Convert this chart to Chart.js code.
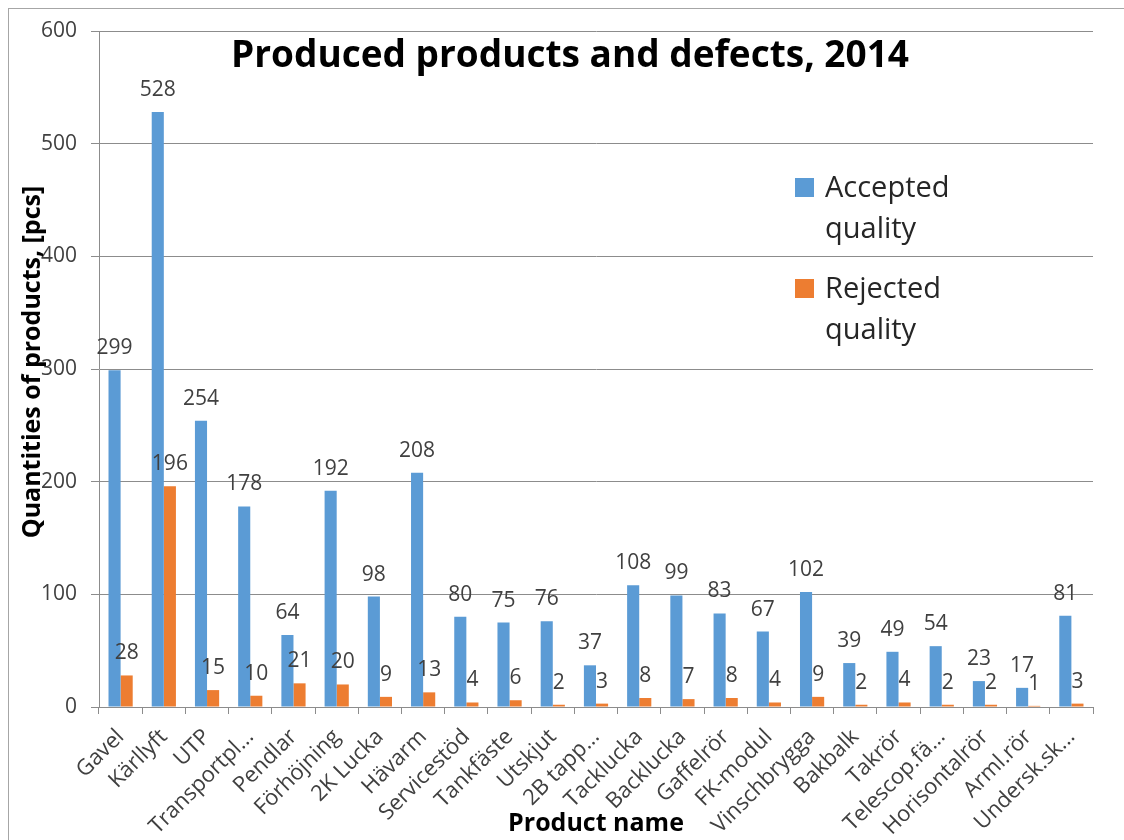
<!DOCTYPE html>
<html>
<head>
<meta charset="utf-8">
<script src="https://cdn.jsdelivr.net/npm/chart.js@4"></script>
<style>
  html, body { margin: 0; padding: 0; background: #fff; }
  #wrap { width: 1124px; height: 840px; }
</style>
</head>
<body>
<div id="wrap"><canvas id="productChart" width="1124" height="840"></canvas></div>
<script>
const categories = ['Gavel', 'Kärllyft', 'UTP', 'Transportpl...', 'Pendlar', 'Förhöjning', '2K Lucka',
    'Hävarm', 'Servicestöd', 'Tankfäste', 'Utskjut', '2B tapp...', 'Tacklucka', 'Backlucka',
    'Gaffelrör', 'FK-modul', 'Vinschbrygga', 'Bakbalk', 'Takrör', 'Telescop.fä...',
    'Horisontalrör', 'Arml.rör', 'Undersk.sk...'];
const accepted = [299, 528, 254, 178, 64, 192, 98, 208, 80, 75, 76, 37, 108, 99, 83, 67, 102, 39, 49, 54, 23, 17, 81];
const rejected = [28, 196, 15, 10, 21, 20, 9, 13, 4, 6, 2, 3, 8, 7, 8, 4, 9, 2, 4, 2, 2, 1, 3];
const seriesNames = ['Accepted quality', 'Rejected quality'];
const yTicks = [0, 100, 200, 300, 400, 500, 600];

const chartTitle = 'Produced products and defects, 2014';
const xTitle = 'Product name';
const yTitle = 'Quantities of products, [pcs]';

const FONT = '"Open Sans", "DejaVu Sans", sans-serif';
const gridColor = '#8c8c8c';
const textColor = '#404040';

// frame, title, axis titles, legend and value labels are drawn here
const decorations = {
    id: 'decorations',
    beforeDraw(chart) {
        const ctx = chart.ctx;
        ctx.save();
        ctx.fillStyle = '#fff';
        ctx.fillRect(0, 0, chart.width, chart.height);
        ctx.strokeStyle = '#a6a6a6';
        ctx.lineWidth = 1;
        ctx.strokeRect(8.5, 8.5, 1300, 1000);
        ctx.restore();
    },
    afterDatasetsDraw(chart) {
        const ctx = chart.ctx;
        ctx.save();
        // value labels
        ctx.font = '21px ' + FONT;
        ctx.fillStyle = textColor;
        ctx.textAlign = 'center';
        ctx.textBaseline = 'alphabetic';
        chart.data.datasets.forEach((ds, i) => {
            chart.getDatasetMeta(i).data.forEach((bar, j) => {
                ctx.fillText(String(ds.data[j]), bar.x, bar.y - 16);
            });
        });

        // title
        ctx.font = 'bold 37px ' + FONT;
        ctx.fillStyle = '#000';
        ctx.fillText(chartTitle, 570, 67);

        // x axis title
        ctx.font = 'bold 25px ' + FONT;
        const area = chart.chartArea;
        ctx.fillText(xTitle, (area.left + area.right) / 2, 831);

        // y axis title
        ctx.save();
        ctx.translate(40, 362);
        ctx.rotate(-Math.PI / 2);
        ctx.font = 'bold 25px ' + FONT;
        ctx.fillText(yTitle, 0, 0);
        ctx.restore();

        // legend
        ctx.textAlign = 'left';
        ctx.font = '29px ' + FONT;
        const legendTops = [197, 298];
        chart.data.datasets.forEach((ds, i) => {
            const base = legendTops[i];
            ctx.fillStyle = ds.backgroundColor;
            ctx.fillRect(795, base - 19, 19, 19);
            ctx.fillStyle = '#262626';
            ds.label.split(' ').forEach((word, k) => {
                ctx.fillText(word, 825, base + k * 41);
            });
        });
        ctx.restore();
    }
};

new Chart(document.getElementById('productChart'), {
    type: 'bar',
    data: {
        labels: categories,
        datasets: [
            { label: seriesNames[0], data: accepted, backgroundColor: '#5b9bd5' },
            { label: seriesNames[1], data: rejected, backgroundColor: '#ed7d31' }
        ]
    },
    options: {
        responsive: false,
        animation: false,
        layout: { padding: { left: 8, right: 31, top: 31, bottom: 0 } },
        datasets: { bar: { categoryPercentage: 0.56, barPercentage: 1.0 } },
        plugins: {
            legend: { display: false },
            title: { display: false },
            tooltip: { enabled: false }
        },
        scales: {
            x: {
                afterFit: scale => { scale.height = 133; },
                grid: { drawOnChartArea: false, drawTicks: true, tickLength: 7, color: gridColor, offset: true },
                border: { display: true, color: gridColor },
                ticks: {
                    autoSkip: false, maxRotation: 45, minRotation: 45, padding: 10,
                    color: textColor, font: { family: FONT, size: 22 }
                }
            },
            y: {
                min: 0,
                max: 600,
                afterFit: scale => { scale.width = 91; },
                afterBuildTicks: scale => { scale.ticks = yTicks.map(v => ({ value: v })); },
                grid: { color: gridColor, tickLength: 8 },
                border: { display: true, color: gridColor },
                ticks: { padding: 14, color: textColor, font: { family: FONT, size: 21 } }
            }
        }
    },
    plugins: [decorations]
});
</script>
</body>
</html>
